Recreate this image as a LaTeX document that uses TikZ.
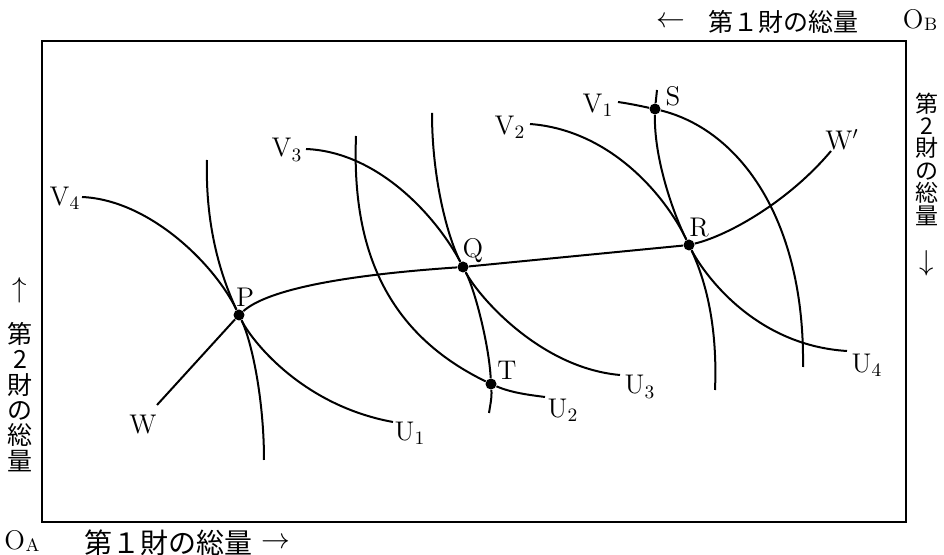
\documentclass[tikz,border=0pt]{standalone}
\usepackage{fontspec}
\newfontfamily\jpfont{Noto Sans CJK JP}
\usetikzlibrary{positioning}
\tikzset{
  curve/.style={line width=1pt},
  frame/.style={line width=0.6pt},
  dot/.style={circle,fill=black,minimum size=5.5pt,inner sep=0},
  lab/.style={font=\fontsize{13.5}{15}\selectfont,inner sep=0},
  jp/.style={font=\jpfont\fontsize{#1}{#1}\selectfont,inner sep=0},
  % vertical axis text: one character per line
  jpv/.style 2 args={align=center,inner sep=0,font=\jpfont\fontsize{#1}{#2}\selectfont},
}
\newcommand{\orig}[1]{O\kern0.3pt\raisebox{-0.6pt}{\fontsize{9}{9}\selectfont #1}}
\begin{document}
\begin{tikzpicture}[x=0.5pt,y=-0.5pt]
  \useasboundingbox (0,0) rectangle (944,555);
  % the box with origins O_A (bottom left) and O_B (top right)
  \coordinate (oa) at (42,522);
  \coordinate (ob) at (906,41);
  \draw[frame] (oa) rectangle (ob);
  \node[lab,anchor=base] (labOA) at (22,550) {\orig{A}};
  \node[lab,anchor=base] (labOB) at (920,29) {\orig{B}};
  \node[jp=14] (good1a) at (168,543) {第１財の総量};
  \node[lab] (arr1a) at (276,543) {$\rightarrow$};
  \node[jp=12.5] (good1b) at (783,22) {第１財の総量};
  \node[lab] (arr1b) at (671,22) {$\leftarrow$};
  \node[jpv={12.5}{12.7}] (good2a) at (20,397) {第\\2\\財\\の\\総\\量};
  \node[lab] (arr2a) at (20,290) {$\uparrow$};
  \node[jpv={11.5}{11.2}] (good2b) at (927,159) {第\\2\\財\\の\\総\\量};
  \node[lab] (arr2b) at (927,263) {$\downarrow$};
  % points on the contract curve, and T, S
  \node[dot] (P) at (239,315) {};
  \node[dot] (Q) at (463,267) {};
  \node[dot] (R) at (689,245) {};
  \node[dot] (S) at (655,109) {};
  \node[dot] (T) at (491,384) {};
  % free ends of the curves
  \coordinate (wa) at (157,405);
  \coordinate (wb) at (831,151);
  \coordinate (u1a) at (207,160);
  \coordinate (u1b) at (393,422);
  \coordinate (u2a) at (356,136);
  \coordinate (u2b) at (545,397);
  \coordinate (u3a) at (432,113);
  \coordinate (u3b) at (620,375);
  \coordinate (u4a) at (657,90);
  \coordinate (u4b) at (847,351);
  \coordinate (v1a) at (618,102);
  \coordinate (v1b) at (803,367);
  \coordinate (v2a) at (530,124);
  \coordinate (v2b) at (715,390);
  \coordinate (v3a) at (306,149);
  \coordinate (v3b) at (489,413);
  \coordinate (v4a) at (82,197);
  \coordinate (v4b) at (264,460);
  % contract curve W -- W'
  \draw[curve] (wa) -- (P) .. controls (265,292) and (330,276) .. (Q) -- (R)
    .. controls (730,235) and (790,200) .. (wb);
  % indifference curves of A
  \draw[curve] (u1a) .. controls (205,230) and (223,281) .. (P) .. controls (250,338) and (300,405) .. (u1b);
  \draw[curve] (u2a) .. controls (352,240) and (380,330) .. (T) .. controls (512,393) and (530,395) .. (u2b);
  \draw[curve] (u3a) .. controls (432,180) and (448,238) .. (Q) .. controls (478,296) and (540,368) .. (u3b);
  \draw[curve] (u4a) -- (S) .. controls (654,160) and (674,215) .. (R) .. controls (700,267) and (750,345) .. (u4b);
  % indifference curves of B
  \draw[curve] (v1a) .. controls (632,104) and (645,107) .. (S) .. controls (740,130) and (805,220) .. (v1b);
  \draw[curve] (v2a) .. controls (610,130) and (665,195) .. (R) .. controls (703,275) and (718,320) .. (v2b);
  \draw[curve] (v3a) .. controls (380,152) and (438,219.5) .. (Q) .. controls (475,290) and (489,345) .. (T)
    .. controls (492,398) and (490,406) .. (v3b);
  \draw[curve] (v4a) .. controls (150,200) and (215,265) .. (P) .. controls (252,342) and (264,400) .. (v4b);
  % labels
  \node[lab] (labP) at (245,297) {P};
  \node[lab] (labQ) at (473,251) {Q};
  \node[lab] (labR) at (699,228) {R};
  \node[lab] (labS) at (673,96) {S};
  \node[lab] (labT) at (507,370) {T};
  \node[lab] (labW) at (143,425) {W};
  \node[lab] (labWp) at (842,140) {W$'$};
  \node[lab] (labU1) at (410,433) {U\textsubscript{1}};
  \node[lab] (labU2) at (563,410) {U\textsubscript{2}};
  \node[lab] (labU3) at (640,387) {U\textsubscript{3}};
  \node[lab] (labU4) at (867,365) {U\textsubscript{4}};
  \node[lab] (labV1) at (598,105) {V\textsubscript{1}};
  \node[lab] (labV2) at (510,127) {V\textsubscript{2}};
  \node[lab] (labV3) at (287,150) {V\textsubscript{3}};
  \node[lab] (labV4) at (65,198) {V\textsubscript{4}};
\end{tikzpicture}
\end{document}
